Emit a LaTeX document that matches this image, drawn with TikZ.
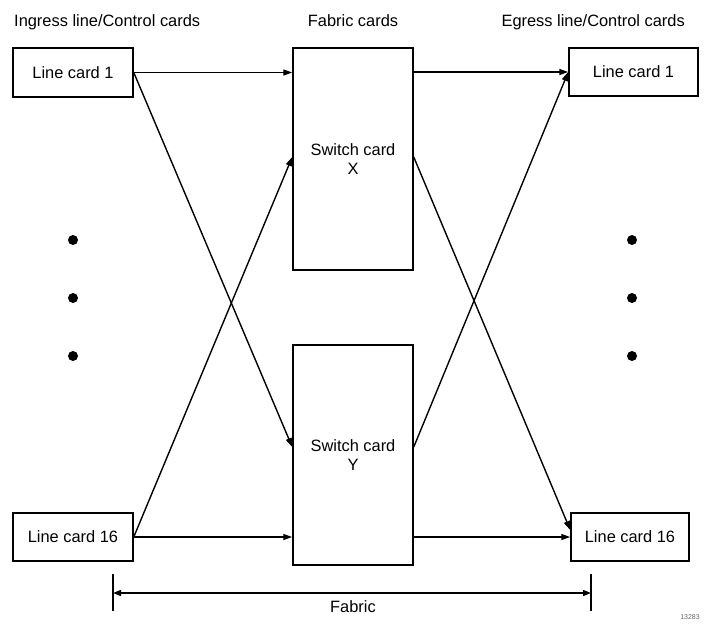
\documentclass[tikz,border=0pt]{standalone}
\usepackage{fontspec}
\setmainfont{Liberation Sans}
\usetikzlibrary{arrows.meta,calc}
\begin{document}
\begin{tikzpicture}[x=1pt,y=-1pt,
  every node/.style={font=\fontsize{16.4}{19}\selectfont},
  card/.style={draw, line width=1.5pt, inner sep=0pt, align=center},
  link/.style={line width=1.4pt, -{Triangle[length=9pt,width=6pt]}},
  dim/.style={line width=1.4pt, {Triangle[length=8pt,width=6pt]}-{Triangle[length=8pt,width=6pt]}},
  tick/.style={line width=1.4pt},
  dot/.style={circle, fill=black, inner sep=0pt, minimum size=10pt},
  title/.style={anchor=base, inner sep=0pt}]
  \useasboundingbox (0,0) rectangle (709,630);

  % column headings
  \node[title, anchor=base west] (tin)  at (14,26)  {Ingress line/Control cards};
  \node[title]                   (tfab) at (353,26) {Fabric cards};
  \node[title, anchor=base east] (tout) at (685,26) {Egress line/Control cards};

  % ingress line cards
  \node[card, minimum width=120pt, minimum height=49pt] (in1)  at (73,72.5) {Line card 1};
  \node[card, minimum width=120pt, minimum height=48pt] (in16) at (73,537)  {Line card 16};

  % fabric (switch) cards
  \node[card, minimum width=120pt, minimum height=222pt] (swx) at (353,159) {Switch card\\X};
  \node[card, minimum width=120pt, minimum height=220pt] (swy) at (353,455) {Switch card\\Y};

  % egress line cards
  \node[card, minimum width=129pt, minimum height=48pt] (out1)  at (633.5,72) {Line card 1};
  \node[card, minimum width=118pt, minimum height=48pt] (out16) at (630,537)  {Line card 16};

  % ellipsis dots between the line cards
  \node[dot] (dl1) at (73,240) {};
  \node[dot] (dl2) at (73,298) {};
  \node[dot] (dl3) at (73,356) {};
  \node[dot] (dr1) at (632,240) {};
  \node[dot] (dr2) at (632,298) {};
  \node[dot] (dr3) at (632,356) {};

  % straight links
  \draw[link] (in1.east)  -- (in1.east -| swx.west);
  \draw[link] (in16.east) -- (in16.east -| swy.west);
  \draw[link] (swx.east |- out1.west)  -- (out1.west);
  \draw[link] (swy.east |- out16.west) -- (out16.west);

  % crossed links
  \draw[link] (in1.east)  -- ([yshift=8pt]swy.west);
  \draw[link] (in16.east) -- ([yshift=2pt]swx.west);
  \draw[link] ([yshift=2pt]swx.east) -- ([yshift=7pt]out16.west);
  \draw[link] ([yshift=8pt]swy.east) -- (out1.west);

  % fabric extent
  \coordinate (fl1) at (113,574);
  \coordinate (fl2) at (113,611);
  \coordinate (fr1) at (591,574);
  \coordinate (fr2) at (591,611);
  \coordinate (fa) at (113,593);
  \coordinate (fb) at (591,593);
  \draw[tick] (fl1) -- (fl2);
  \draw[tick] (fr1) -- (fr2);
  \draw[dim] (fa) -- (fb);
  \node (flab) at (353,607) {Fabric};

  % figure number
  \node[font=\fontsize{7}{8}\selectfont, text=black!60] (fig) at (690,617) {13283};
\end{tikzpicture}
\end{document}
